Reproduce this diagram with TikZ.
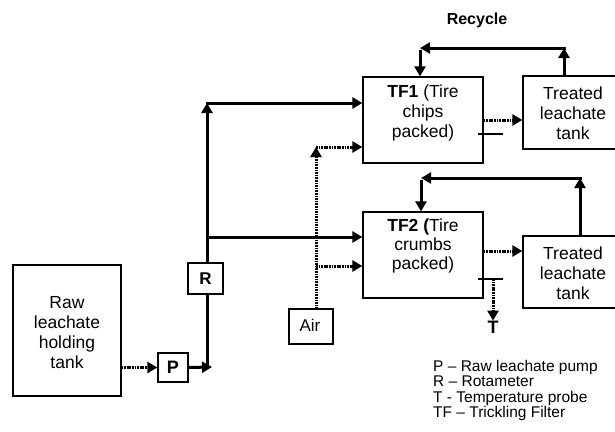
\documentclass[tikz,border=0pt]{standalone}
\usepackage{fontspec}
\setmainfont{Liberation Sans}
\usetikzlibrary{arrows.meta}
\begin{document}
\begin{tikzpicture}[x=1pt,y=-1pt,
  box/.style={draw, line width=1.2pt, inner sep=0pt},
  lbl/.style={align=center, inner sep=0pt, font=\fontsize{17.5}{20}\selectfont},
  tip/.style={-{Triangle[length=10pt,width=11pt]}},
  flow/.style={line width=3pt, tip},
  dflow/.style={line width=3pt, dash pattern=on 1.7pt off 0.9pt, tip},
  thin/.style={line width=1.1pt}]
\useasboundingbox (0,0) rectangle (615,431);

% boxes
\node[box, minimum width=108pt, minimum height=131pt] (raw) at (67,330.5) {};
\node[lbl] (rawt) at (67,333) {Raw\\leachate\\holding\\tank};
\node[box, minimum width=30pt, minimum height=29pt, font=\fontsize{18}{20}\selectfont\bfseries] (P) at (173,367.5) {P};
\node[box, minimum width=120pt, minimum height=86pt] (TF1) at (423,120) {};
\node[lbl] (TF1t) at (423,113) {\textbf{TF1} (Tire\\chips\\packed)};
\node[box, minimum width=120pt, minimum height=86pt] (TF2) at (423,255) {};
\node[lbl, font=\fontsize{17.5}{19}\selectfont] (TF2t) at (423,246) {\textbf{TF2 (}Tire\\crumbs\\packed)};
\node[box, minimum width=100pt, minimum height=73pt] (T1) at (573,112.5) {};
\node[lbl] (T1t) at (573,113) {Treated\\leachate\\tank};
\node[box, minimum width=100pt, minimum height=72pt] (T2) at (573,272) {};
\node[lbl] (T2t) at (573,273) {Treated\\leachate\\tank};
\node[box, minimum width=44pt, minimum height=35pt] (air) at (311,326.5) {};
\node[lbl, font=\fontsize{17}{20}\selectfont] (airt) at (310,325) {Air};

\node[inner sep=0pt, font=\fontsize{16}{18}\selectfont\bfseries] (rec) at (477,20) {Recycle};
\node[inner sep=0pt, font=\fontsize{18}{20}\selectfont\bfseries] (T) at (493,327) {T};

\node[anchor=north west, align=left, inner sep=0pt, font=\fontsize{15.5}{15.5}\selectfont] (leg) at (433,360)
  {P -- Raw leachate pump\\R -- Rotameter\\T - Temperature probe\\TF -- Trickling Filter};

% junction coordinates
\coordinate (jb) at (207,367);
\coordinate (jt) at (207,103);
\coordinate (jm) at (207,237);
\coordinate (ab) at (316,309);
\coordinate (at) at (316,147);
\coordinate (am) at (316,266);
\coordinate (r1a) at (564,48);
\coordinate (r1b) at (420,48);
\coordinate (r2a) at (580,178);
\coordinate (r2b) at (421,178);
\coordinate (th1a) at (478,134);
\coordinate (th1b) at (503,134);
\coordinate (th2a) at (478,279);
\coordinate (th2b) at (503,279);
\coordinate (tp) at (493,279);

% raw leachate line
\draw[dflow] (raw.east |- P) -- (P.west);
\draw[flow] (P.east) -- ([xshift=5pt]jb);
\draw[flow] ([yshift=1.5pt]jb) -- (jt);
\draw[flow] ([xshift=-1.5pt]jt) -- (TF1.west |- jt);
\draw[flow] (jm) -- (TF2.west |- jm);

% rotameter on top of the riser
\node[box, fill=white, minimum width=35pt, minimum height=31pt, font=\fontsize{17}{20}\selectfont\bfseries] (R) at (205.5,278.5) {R};

% air
\draw[dflow] (ab) -- (at);
\draw[dflow] (at) -- (TF1.west |- at);
\draw[dflow] (am) -- (TF2.west |- am);

% outflows
\draw[dflow] (TF1.east |- 0,120) -- (T1.west |- 0,120);
\draw[dflow] (TF2.east |- 0,251) -- (T2.west |- 0,251);
\draw[thin] (th1a) -- (th1b);
\draw[thin] (th2a) -- (th2b);
\draw[dflow] (tp) -- (T.north);

% recycles
\draw[flow] (T1.north -| r1a) -- (r1a);
\draw[flow] ([xshift=1.5pt]r1a) -- (r1b);
\draw[flow] ([yshift=-1.5pt]r1b) -- (TF1.north -| r1b);
\draw[flow] (T2.north -| r2a) -- (r2a);
\draw[flow] ([xshift=1.5pt]r2a) -- (r2b);
\draw[flow] ([yshift=-1.5pt]r2b) -- (TF2.north -| r2b);
\end{tikzpicture}
\end{document}
